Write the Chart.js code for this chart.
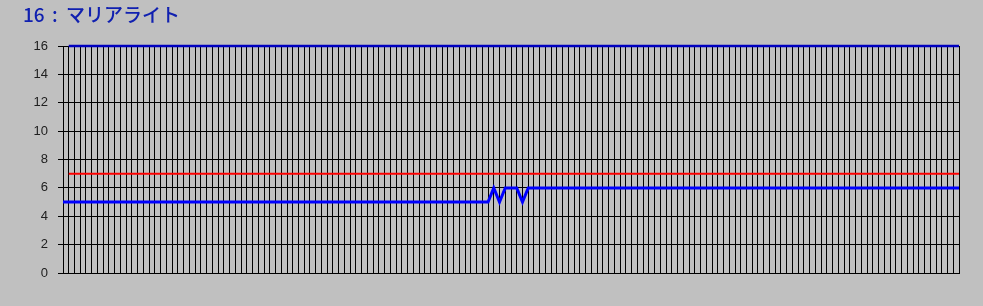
<!DOCTYPE html>
<html>
<head>
<meta charset="utf-8">
<script src="https://cdn.jsdelivr.net/npm/chart.js@4"></script>
<style>
html,body{margin:0;padding:0;background:#c0c0c0;}
#wrap{width:983px;height:306px;position:relative;}
</style>
</head>
<body>
<div id="wrap"><canvas id="c" width="983" height="306"></canvas></div>
<script>
const titleNumber = "16";
const titleSep = ":";
const titleName = "マリアライト";
const yTicks = [0, 2, 4, 6, 8, 10, 12, 14, 16];
const categories = Array.from({length: 157}, (_, i) => String(i + 1));

const valueSeries = [
5,5,5,5,5,5,5,5,5,5,
5,5,5,5,5,5,5,5,5,5,
5,5,5,5,5,5,5,5,5,5,
5,5,5,5,5,5,5,5,5,5,
5,5,5,5,5,5,5,5,5,5,
5,5,5,5,5,5,5,5,5,5,
5,5,5,5,5,5,5,5,5,5,
5,5,5,5,5,
6,5,6,6,6,5,
6,6,6,6,6,6,6,6,6,6,
6,6,6,6,6,6,6,6,6,6,
6,6,6,6,6,6,6,6,6,6,
6,6,6,6,6,6,6,6,6,6,
6,6,6,6,6,6,6,6,6,6,
6,6,6,6,6,6,6,6,6,6,
6,6,6,6,6,6,6,6,6,6,
6,6,6,6,6,6
];

const redSeries = [
null,
7,7,7,7,7,7,7,7,7,7,
7,7,7,7,7,7,7,7,7,7,
7,7,7,7,7,7,7,7,7,7,
7,7,7,7,7,7,7,7,7,7,
7,7,7,7,7,7,7,7,7,7,
7,7,7,7,7,7,7,7,7,7,
7,7,7,7,7,7,7,7,7,7,
7,7,7,7,7,7,7,7,7,7,
7,7,7,7,7,7,7,7,7,7,
7,7,7,7,7,7,7,7,7,7,
7,7,7,7,7,7,7,7,7,7,
7,7,7,7,7,7,7,7,7,7,
7,7,7,7,7,7,7,7,7,7,
7,7,7,7,7,7,7,7,7,7,
7,7,7,7,7,7,7,7,7,7,
7,7,7,7,7,7
];

const topSeries = [
null,
16,16,16,16,16,16,16,16,16,16,
16,16,16,16,16,16,16,16,16,16,
16,16,16,16,16,16,16,16,16,16,
16,16,16,16,16,16,16,16,16,16,
16,16,16,16,16,16,16,16,16,16,
16,16,16,16,16,16,16,16,16,16,
16,16,16,16,16,16,16,16,16,16,
16,16,16,16,16,16,16,16,16,16,
16,16,16,16,16,16,16,16,16,16,
16,16,16,16,16,16,16,16,16,16,
16,16,16,16,16,16,16,16,16,16,
16,16,16,16,16,16,16,16,16,16,
16,16,16,16,16,16,16,16,16,16,
16,16,16,16,16,16,16,16,16,16,
16,16,16,16,16,16,16,16,16,16,
16,16,16,16,16,16
];

const bgPlugin = {
  id: 'bg',
  beforeDraw(chart) {
    const ctx = chart.ctx;
    ctx.save();
    ctx.fillStyle = '#c0c0c0';
    ctx.fillRect(0, 0, chart.width, chart.height);
    ctx.restore();
  },
  afterDraw(chart) {
    const ctx = chart.ctx;
    ctx.save();
    ctx.fillStyle = '#1020b0';
    ctx.font = '500 19px "Noto Sans CJK JP", sans-serif';
    ctx.textBaseline = 'alphabetic';
    ctx.textAlign = 'left';
    ctx.fillText(titleNumber, 23, 22);
    ctx.fillText(titleSep, 52, 22);
    ctx.fillText(titleName, 66, 22);
    ctx.restore();
  }
};

new Chart(document.getElementById('c'), {
  type: 'line',
  data: {
    labels: categories,
    datasets: [
      { data: topSeries, borderColor: '#0000c0', borderWidth: 2.5, pointRadius: 0, tension: 0, clip: false },
      { data: redSeries, borderColor: '#ff0000', borderWidth: 2, pointRadius: 0, tension: 0, clip: false },
      { data: valueSeries, borderColor: '#0000ff', borderWidth: 3, pointRadius: 0, tension: 0, clip: false }
    ]
  },
  plugins: [bgPlugin],
  options: {
    responsive: false,
    animation: false,
    events: [],
    layout: { padding: { top: 46, right: 24, bottom: 33, left: 0 } },
    plugins: { legend: { display: false }, title: { display: false }, tooltip: { enabled: false } },
    scales: {
      x: {
        type: 'category',
        offset: false,
        grid: { display: true, color: '#000000', lineWidth: 1, drawTicks: false },
        border: { display: true, color: '#000000', width: 1 },
        ticks: { display: false, autoSkip: false },
        afterFit(s) { s.height = 0; }
      },
      y: {
        min: 0, max: 16,
        afterBuildTicks(s) { s.ticks = yTicks.map(v => ({ value: v })); },
        grid: { display: true, color: '#000000', lineWidth: 1, drawTicks: true, tickLength: 5 },
        border: { display: true, color: '#000000', width: 1 },
        ticks: { color: '#202020', padding: 10, font: { family: '"Liberation Sans", Arial, sans-serif', size: 13 } },
        afterFit(s) { s.width = 63; }
      }
    }
  }
});
</script>
</body>
</html>
